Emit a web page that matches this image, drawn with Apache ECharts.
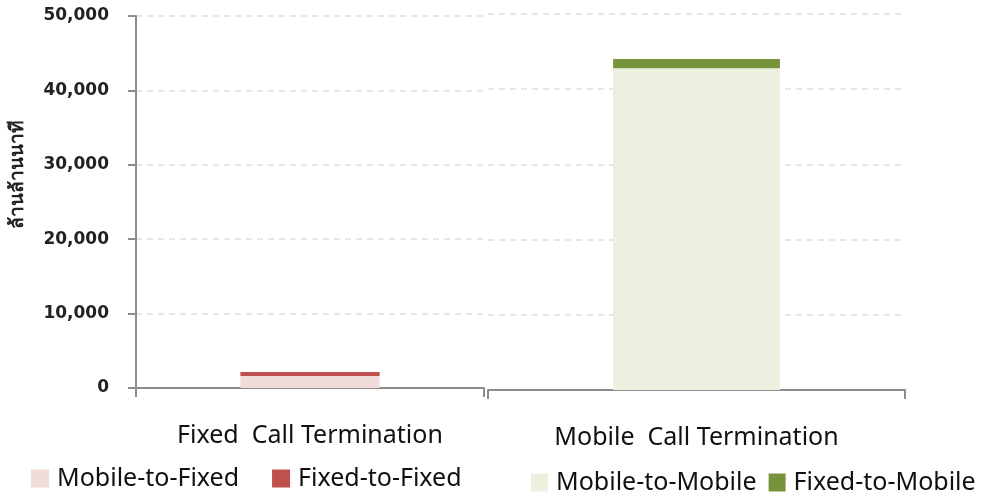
<!DOCTYPE html>
<html><head><meta charset="utf-8">
<script src="https://cdn.jsdelivr.net/npm/echarts@6/dist/echarts.min.js"></script>
<style>html,body{margin:0;padding:0;background:#fff}#c{width:986px;height:495px}</style>
</head><body><div id="c"></div>
<script>
const leftCategories = ['Fixed  Call Termination'];
const rightCategories = ['Mobile  Call Termination'];
const mobileToFixed = [1600];
const fixedToFixed = [550];
const mobileToMobile = [42800];
const fixedToMobile = [1200];
const yTicks = { min: 0, max: 50000, interval: 10000 };
const yName = 'ล้านล้านนาที';

const chart = echarts.init(document.getElementById('c'));
const axisLine = { show: true, lineStyle: { color: '#8c8c8c', width: 2 } };
const split = { show: true, lineStyle: { color: '#e6e6e6', type: [6, 5], width: 2 } };
const catLabel = { fontSize: 25, color: '#111', fontFamily: 'Noto Sans', margin: 35 };
const legendText = { fontSize: 25, color: '#111', fontFamily: 'Noto Sans', padding: [0, 0, 0, 3] };
chart.setOption({
  animation: false,
  graphic: [{ type: 'text', x: 18, y: 174, rotation: Math.PI / 2,
    style: { text: yName, align: 'center', verticalAlign: 'middle', fontSize: 19, fontWeight: 'bold', fill: '#222' } }],
  grid: [
    { left: 136, top: 16, width: 348, bottom: 107 },
    { left: 488, top: 14, width: 417, bottom: 105 }
  ],
  legend: [
    { left: 31, top: 466, padding: 0, width: 440, itemWidth: 18, itemHeight: 18, itemGap: 33, icon: 'rect',
      textStyle: legendText, data: ['Mobile-to-Fixed', 'Fixed-to-Fixed'] },
    { left: 531, top: 470, padding: 0, width: 460, itemWidth: 17, itemHeight: 18, itemGap: 12, icon: 'rect',
      textStyle: legendText, data: ['Mobile-to-Mobile', 'Fixed-to-Mobile'] }
  ],
  xAxis: [
    { type: 'category', gridIndex: 0, data: leftCategories, axisLine,
      axisTick: { show: true, length: 9, lineStyle: { color: '#8c8c8c', width: 2 } }, axisLabel: catLabel },
    { type: 'category', gridIndex: 1, data: rightCategories, axisLine,
      axisTick: { show: true, length: 9, lineStyle: { color: '#8c8c8c', width: 2 } }, axisLabel: catLabel }
  ],
  yAxis: [
    { type: 'value', gridIndex: 0, min: yTicks.min, max: yTicks.max, interval: yTicks.interval,
      axisLine, axisTick: { show: true, length: 8, lineStyle: { color: '#8c8c8c', width: 2 } },
      axisLabel: { fontSize: 17, fontWeight: 'bold', color: '#222', fontFamily: 'DejaVu Sans', margin: 27,
        formatter: v => v.toLocaleString('en-US') },
      splitLine: split },
    { type: 'value', gridIndex: 1, min: yTicks.min, max: yTicks.max, interval: yTicks.interval,
      axisLine: { show: false }, axisTick: { show: false }, axisLabel: { show: false },
      splitLine: split }
  ],
  series: [
    { name: 'Mobile-to-Fixed', type: 'bar', stack: 'a', xAxisIndex: 0, yAxisIndex: 0, barWidth: '40%',
      itemStyle: { color: '#f2dcdb' }, data: mobileToFixed },
    { name: 'Fixed-to-Fixed', type: 'bar', stack: 'a', xAxisIndex: 0, yAxisIndex: 0, barWidth: '40%',
      itemStyle: { color: '#c0504d' }, data: fixedToFixed },
    { name: 'Mobile-to-Mobile', type: 'bar', stack: 'b', xAxisIndex: 1, yAxisIndex: 1, barWidth: '40%',
      itemStyle: { color: '#ebf1de' }, data: mobileToMobile },
    { name: 'Fixed-to-Mobile', type: 'bar', stack: 'b', xAxisIndex: 1, yAxisIndex: 1, barWidth: '40%',
      itemStyle: { color: '#77933c' }, data: fixedToMobile }
  ]
});
</script></body></html>
